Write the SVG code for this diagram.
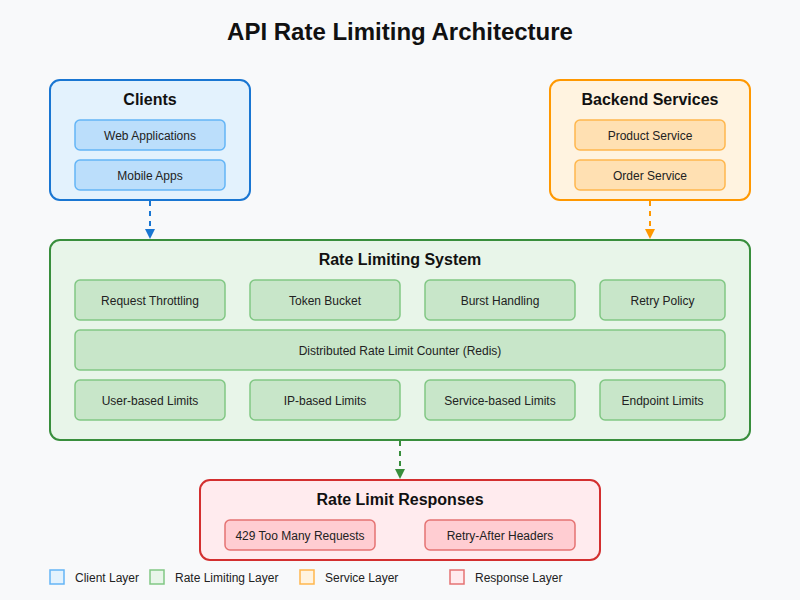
<svg xmlns="http://www.w3.org/2000/svg" width="800" height="600" viewBox="0 0 800 600">
  <defs>
    <style>
      text { font-family: "Liberation Sans", Arial, sans-serif; fill: #111; text-anchor: middle; }
      .title { font-size: 24px; font-weight: bold; }
      .head { font-size: 16px; font-weight: bold; }
      .lbl { font-size: 12px; fill: #222; }
      .leg { font-size: 12px; fill: #222; text-anchor: start; }
      .main { stroke-width: 2; }
      .sub { stroke-width: 1.5; }
      .blue { fill: #e3f2fd; stroke: #1976d2; }
      .blueS { fill: #bbdefb; stroke: #64b5f6; }
      .orange { fill: #fff3e0; stroke: #ff9800; }
      .orangeS { fill: #ffe0b2; stroke: #ffb74d; }
      .green { fill: #e8f5e9; stroke: #388e3c; }
      .greenS { fill: #c8e6c9; stroke: #81c784; }
      .red { fill: #ffebee; stroke: #d32f2f; }
      .redS { fill: #ffcdd2; stroke: #e57373; }
      .conn { stroke-width: 2; stroke-dasharray: 5,5; fill: none; }
    </style>
    <marker id="arrBlue" markerWidth="10" markerHeight="10" refX="5" refY="10" markerUnits="userSpaceOnUse" viewBox="0 0 10 10">
      <path d="M0,0 L10,0 L5,10 Z" fill="#1976d2"/>
    </marker>
    <marker id="arrOrange" markerWidth="10" markerHeight="10" refX="5" refY="10" markerUnits="userSpaceOnUse" viewBox="0 0 10 10">
      <path d="M0,0 L10,0 L5,10 Z" fill="#ff9800"/>
    </marker>
    <marker id="arrGreen" markerWidth="10" markerHeight="10" refX="5" refY="10" markerUnits="userSpaceOnUse" viewBox="0 0 10 10">
      <path d="M0,0 L10,0 L5,10 Z" fill="#388e3c"/>
    </marker>
  </defs>

  <rect x="0" y="0" width="800" height="600" fill="#f8f9fa"/>

  <text class="title" x="400" y="40">API Rate Limiting Architecture</text>

  <g id="clients">
    <rect class="main blue" x="50" y="80" width="200" height="120" rx="10"/>
    <text class="head" x="150" y="105">Clients</text>
    <g id="web-apps">
      <rect class="sub blueS" x="75" y="120" width="150" height="30" rx="5"/>
      <text class="lbl" x="150" y="140">Web Applications</text>
    </g>
    <g id="mobile-apps">
      <rect class="sub blueS" x="75" y="160" width="150" height="30" rx="5"/>
      <text class="lbl" x="150" y="180">Mobile Apps</text>
    </g>
  </g>

  <g id="backend">
    <rect class="main orange" x="550" y="80" width="200" height="120" rx="10"/>
    <text class="head" x="650" y="105">Backend Services</text>
    <g id="product-service">
      <rect class="sub orangeS" x="575" y="120" width="150" height="30" rx="5"/>
      <text class="lbl" x="650" y="140">Product Service</text>
    </g>
    <g id="order-service">
      <rect class="sub orangeS" x="575" y="160" width="150" height="30" rx="5"/>
      <text class="lbl" x="650" y="180">Order Service</text>
    </g>
  </g>

  <g id="rate-limiting">
    <rect class="main green" x="50" y="240" width="700" height="200" rx="10"/>
    <text class="head" x="400" y="265">Rate Limiting System</text>
    <g id="request-throttling">
      <rect class="sub greenS" x="75" y="280" width="150" height="40" rx="5"/>
      <text class="lbl" x="150" y="305">Request Throttling</text>
    </g>
    <g id="token-bucket">
      <rect class="sub greenS" x="250" y="280" width="150" height="40" rx="5"/>
      <text class="lbl" x="325" y="305">Token Bucket</text>
    </g>
    <g id="burst-handling">
      <rect class="sub greenS" x="425" y="280" width="150" height="40" rx="5"/>
      <text class="lbl" x="500" y="305">Burst Handling</text>
    </g>
    <g id="retry-policy">
      <rect class="sub greenS" x="600" y="280" width="125" height="40" rx="5"/>
      <text class="lbl" x="662.5" y="305">Retry Policy</text>
    </g>
    <g id="distributed-counter">
      <rect class="sub greenS" x="75" y="330" width="650" height="40" rx="5"/>
      <text class="lbl" x="400" y="355">Distributed Rate Limit Counter (Redis)</text>
    </g>
    <g id="user-limits">
      <rect class="sub greenS" x="75" y="380" width="150" height="40" rx="5"/>
      <text class="lbl" x="150" y="405">User-based Limits</text>
    </g>
    <g id="ip-limits">
      <rect class="sub greenS" x="250" y="380" width="150" height="40" rx="5"/>
      <text class="lbl" x="325" y="405">IP-based Limits</text>
    </g>
    <g id="service-limits">
      <rect class="sub greenS" x="425" y="380" width="150" height="40" rx="5"/>
      <text class="lbl" x="500" y="405">Service-based Limits</text>
    </g>
    <g id="endpoint-limits">
      <rect class="sub greenS" x="600" y="380" width="125" height="40" rx="5"/>
      <text class="lbl" x="662.5" y="405">Endpoint Limits</text>
    </g>
  </g>

  <g id="responses">
    <rect class="main red" x="200" y="480" width="400" height="80" rx="10"/>
    <text class="head" x="400" y="505">Rate Limit Responses</text>
    <g id="too-many-requests">
      <rect class="sub redS" x="225" y="520" width="150" height="30" rx="5"/>
      <text class="lbl" x="300" y="540">429 Too Many Requests</text>
    </g>
    <g id="retry-after">
      <rect class="sub redS" x="425" y="520" width="150" height="30" rx="5"/>
      <text class="lbl" x="500" y="540">Retry-After Headers</text>
    </g>
  </g>

  <g id="connectors">
    <line class="conn" x1="150" y1="201" x2="150" y2="239" stroke="#1976d2" marker-end="url(#arrBlue)"/>
    <line class="conn" x1="650" y1="201" x2="650" y2="239" stroke="#ff9800" marker-end="url(#arrOrange)"/>
    <line class="conn" x1="400" y1="441" x2="400" y2="479" stroke="#388e3c" marker-end="url(#arrGreen)"/>
  </g>

  <g id="legend">
    <rect class="sub" x="50" y="570" width="14" height="14" fill="#e3f2fd" stroke="#64b5f6"/>
    <text class="leg" x="75" y="582">Client Layer</text>
    <rect class="sub" x="150" y="570" width="14" height="14" fill="#e8f5e9" stroke="#81c784"/>
    <text class="leg" x="175" y="582">Rate Limiting Layer</text>
    <rect class="sub" x="300" y="570" width="14" height="14" fill="#fff3e0" stroke="#ffb74d"/>
    <text class="leg" x="325" y="582">Service Layer</text>
    <rect class="sub" x="450" y="570" width="14" height="14" fill="#ffebee" stroke="#e57373"/>
    <text class="leg" x="475" y="582">Response Layer</text>
  </g>
</svg>
